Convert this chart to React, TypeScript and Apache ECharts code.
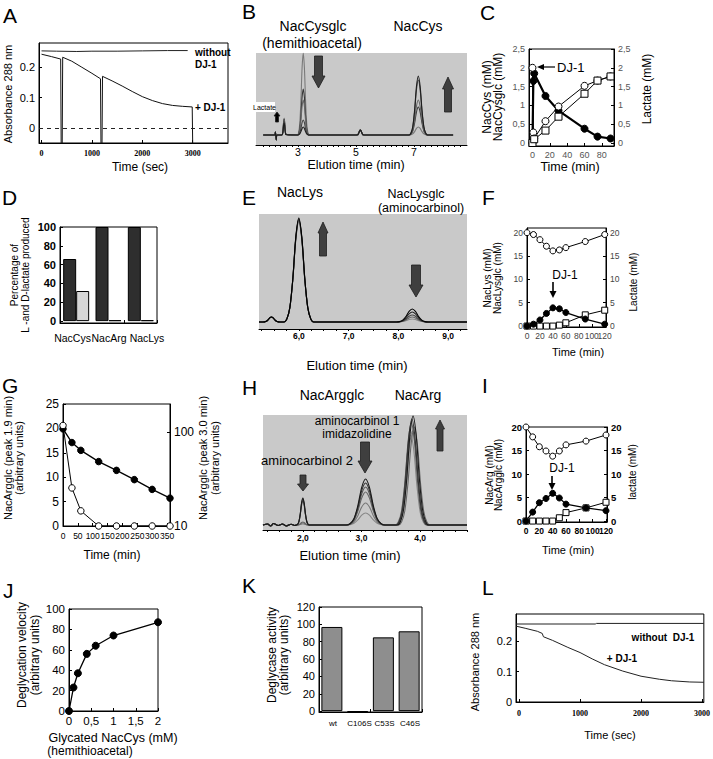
import React, { useEffect, useRef } from "react";
import * as echarts from "echarts";

const SANS = "'Liberation Sans', Arial, Helvetica, sans-serif";
const SERIF = "'Liberation Serif', 'Times New Roman', serif";
const GRAY_BG = "#c9c9c9";

// ---------------- A ----------------
const A_TIME_TICKS = [0, 1000, 2000, 3000];
const A_ABS_TICKS = [0, 0.1, 0.2];
const A_WITHOUT = [[0, 0.254], [300, 0.253], [700, 0.252], [1000, 0.253], [1500, 0.253], [2000, 0.254], [2500, 0.255], [2900, 0.255]];
const A_WITH_DJ1 = [
  [0, 0.243], [200, 0.235], [380, 0.227], [390, -0.06], [410, -0.06], [420, 0.233], [600, 0.22], [800, 0.2],
  [1000, 0.18], [1170, 0.162], [1180, -0.06], [1200, -0.06], [1210, 0.17], [1400, 0.155], [1600, 0.138],
  [1800, 0.12], [2000, 0.103], [2200, 0.09], [2400, 0.08], [2600, 0.074], [2800, 0.071], [2990, 0.069], [3000, -0.06],
];

// ---------------- B ----------------
const B_TIME_LABELS = [3, 5, 7];
const B_GLC_HEIGHTS = [82, 46, 35, 15, 8];
const B_CYS_HEIGHTS = [8, 28, 35, 55, 59];
const B_LACTATE_HEIGHTS = [17, 16, 15, 14, 12];
const B_PEAK5_HEIGHT = 5;
const B_SPIKE = [[2.19, 0], [2.22, 3], [2.25, -5], [2.28, 0]];

// ---------------- C ----------------
const C_TIME_TICKS = [0, 20, 40, 60, 80];
const C_CONC_TICKS = [0, 0.5, 1, 1.5, 2, 2.5];
const C_NACCYS = [[0, 2.0], [1, 0.28], [2, 0.12], [15, 0.58], [30, 0.97], [60, 1.52], [75, 1.66], [90, 1.77]];
const C_NACCYSGLC = [[0, 0], [1, 1.65], [2, 1.85], [15, 1.25], [30, 0.86], [60, 0.38], [75, 0.17], [90, 0.12]];
const C_LACTATE = [[0, 0], [2, 0.1], [15, 0.33], [30, 0.7], [60, 1.31], [75, 1.66], [90, 1.77]];

// ---------------- D ----------------
const D_CATEGORIES = ["NacCys", "NacArg", "NacLys"];
const D_L_LACTATE = [66, 100, 100];
const D_D_LACTATE = [32, 1, 1];
const D_TICKS = [0, 20, 40, 60, 80, 100];

// ---------------- E ----------------
const E_TIME_LABELS = [6, 7, 8, 9];
const E_LYS_HEIGHTS = [100, 101, 102, 103, 104];
const E_GLC_HEIGHTS = [3, 5, 7, 10, 13];
const E_PEAK_SMALL = 5;

// ---------------- F ----------------
const F_TIME = [0, 10, 20, 30, 40, 50, 60, 90, 120];
const F_NACLYS = [20, 19.6, 18.5, 17.1, 16.1, 16.3, 16.8, 18.1, 19.6];
const F_NACLYSGLC = [0, 0.4, 1.3, 2.7, 3.9, 3.7, 2.9, 1.5, 0.4];
const F_LACTATE = [0, 0, 0, 0, 0, 0.2, 0.7, 2.4, 3.4];
const F_TIME_TICKS = [0, 20, 40, 60, 80, 100, 120];
const F_CONC_TICKS = [0, 5, 10, 15, 20];

// ---------------- G ----------------
const G_TIME = [0, 30, 60, 120, 180, 240, 300, 360];
const G_PEAK30 = [19.9, 17.1, 15.5, 13.2, 11.4, 9.5, 7.5, 5.7];
const G_PEAK19 = [20.6, 7.8, 3.1, 0, 0, 0, 0, 0];
const G_TIME_TICKS = [0, 50, 100, 150, 200, 250, 300, 350];
const G_LEFT_TICKS = [0, 5, 10, 15, 20, 25];
const G_RIGHT_TICKS = [10, 100];

// ---------------- H ----------------
const H_TIME_LABELS = [2, 3, 4];
const H_AC2_HEIGHTS = [1, 2, 3, 24, 26, 27];
const H_AC1_HEIGHTS = [12, 22, 33, 38, 42, 46];
const H_ARG_HEIGHTS = [90, 94, 98, 102, 106, 109];
const H_ARG_CENTERS = [3.84, 3.87, 3.9, 3.85, 3.86, 3.88];
const H_NOISE = [[1.4, 1], [1.45, -1], [1.5, 1.5], [1.58, -0.5], [1.65, 1], [1.72, -1], [1.8, 0.8], [1.86, -0.5]];

// ---------------- I ----------------
const I_TIME = [0, 10, 20, 30, 40, 50, 60, 90, 120];
const I_NACARG = [20, 17.9, 15.8, 14.9, 13.8, 14.9, 16.2, 17, 18.3];
const I_NACARGGLC = [0, 1.9, 3.9, 4.8, 5.9, 4.9, 3.6, 2.8, 2.2];
const I_LACTATE = [0, 0, 0, 0, 0, 0.7, 1.8, 2.8, 4];
const I_TIME_TICKS = [0, 20, 40, 60, 80, 100, 120];
const I_CONC_TICKS = [0, 5, 10, 15, 20];

// ---------------- J ----------------
const J_CONC = [0, 0.1, 0.2, 0.4, 0.6, 1, 2];
const J_VELOCITY = [0, 23, 37, 56, 64, 74, 87];
const J_X_TICKS = [0, 0.5, 1, 1.5, 2];
const J_Y_TICKS = [0, 20, 40, 60, 80, 100];

// ---------------- K ----------------
const K_CATEGORIES = ["wt", "C106S", "C53S", "C46S"];
const K_ACTIVITY = [97, -1, 85, 92];
const K_TICKS = [0, 20, 40, 60, 80, 100, 120];

// ---------------- L ----------------
const L_TIME_TICKS = [0, 1000, 2000, 3000];
const L_ABS_TICKS = [0, 0.1, 0.2];
const L_WITHOUT = [[-50, 0.257], [1250, 0.257], [1270, 0.259], [3030, 0.259]];
const L_WITH_DJ1 = [[-50, 0.25], [100, 0.243], [300, 0.233], [380, 0.226], [400, 0.215], [550, 0.203], [800, 0.18], [1000, 0.163], [1200, 0.142], [1400, 0.123], [1700, 0.102], [2000, 0.085], [2300, 0.075], [2500, 0.07], [2800, 0.066], [3030, 0.065]];

// peak shape (relative position, relative height)
const PEAK_PROFILE = [[-1, 0], [-0.8, 0.03], [-0.6, 0.14], [-0.4, 0.42], [-0.2, 0.82], [0, 1], [0.2, 0.82], [0.4, 0.42], [0.6, 0.14], [0.8, 0.03], [1, 0]];

function chromTrace(xmin: number, xmax: number, peaks: number[][], extra: number[][] = []) {
  const pts: number[][] = [[xmin, 0], [xmax, 0], ...extra];
  peaks.forEach(([c, h, w]) => PEAK_PROFILE.forEach(([px, py]) => pts.push([c + px * w, h * py])));
  pts.sort((a, b) => a[0] - b[0]);
  return pts;
}

function range(a: number, b: number, step: number) {
  const out: number[] = [];
  for (let v = a; v <= b + 1e-9; v += step) out.push(Math.round(v * 1000) / 1000);
  return out;
}

const comma = (v: number) => String(v).replace(".", ",");
const comma1 = (v: number) => v.toFixed(1).replace(".", ",");

function buildOption() {
  const grid: any[] = [];
  const xAxis: any[] = [];
  const yAxis: any[] = [];
  const series: any[] = [];
  const graphic: any[] = [];

  const addGrid = (left: number, top: number, width: number, height: number, frame = true, bg = "transparent") => {
    grid.push({ left, top, width, height, show: true, borderColor: frame ? "#000" : "transparent", borderWidth: frame ? 1 : 0, backgroundColor: bg });
    return grid.length - 1;
  };
  const addX = (gi: number, cfg: any) => { xAxis.push({ gridIndex: gi, ...cfg }); return xAxis.length - 1; };
  const addY = (gi: number, cfg: any) => { yAxis.push({ gridIndex: gi, ...cfg }); return yAxis.length - 1; };

  const valAxis = (min: number, max: number, labels: number[], o: any = {}) => ({
    type: o.type ?? "value",
    min, max,
    ...(o.logBase ? { logBase: o.logBase } : {}),
    ...(o.position ? { position: o.position } : {}),
    axisLine: { show: o.showLine ?? true, onZero: false, lineStyle: { color: "#000", width: 1 } },
    axisTick: { show: o.showTicks ?? true, inside: o.tickInside ?? true, length: o.tickLen ?? 3, customValues: o.tickValues ?? labels, lineStyle: { color: "#000", width: 1 } },
    axisLabel: {
      show: true, customValues: labels, color: o.color ?? "#000", fontFamily: o.font ?? SANS,
      fontSize: o.size ?? 11, fontWeight: o.weight ?? "normal", margin: o.margin ?? 4,
      formatter: o.fmt ?? ((v: number) => String(v)), hideOverlap: false,
      showMinLabel: true, showMaxLabel: true,
    },
    splitLine: { show: false },
  });
  // puts every second label on a twin axis so that touching labels are all kept
  const addSplitX = (g: number, min: number, max: number, labels: number[], o: any) => {
    const a = labels.filter((_, i) => i % 2 === 0);
    const b = labels.filter((_, i) => i % 2 === 1);
    const xi = addX(g, valAxis(min, max, a, { ...o, tickValues: labels, position: "bottom" }));
    addX(g, valAxis(min, max, b, { ...o, showLine: false, showTicks: false, position: "bottom" }));
    return xi;
  };
  const hiddenAxis = (min: number, max: number) => ({ type: "value", min, max, show: false });
  const catAxis = (data: string[]) => ({
    type: "category", data,
    axisLine: { show: true, onZero: false, lineStyle: { color: "#000", width: 1 } },
    axisTick: { show: true, inside: true, length: 3, lineStyle: { color: "#000" } },
    axisLabel: { show: false },
    splitLine: { show: false },
  });

  const line = (xi: number, yi: number, data: any[], o: any = {}) => {
    series.push({
      type: "line", xAxisIndex: xi, yAxisIndex: yi, data,
      symbol: o.symbol ?? "none", symbolSize: o.size ?? 6,
      smooth: o.smooth ?? false,
      lineStyle: { color: o.color ?? "#000", width: o.width ?? 1, type: o.dash ? "dashed" : "solid" },
      itemStyle: { color: o.fill ?? "#000", borderColor: "#000", borderWidth: 1 },
      z: o.z ?? 2, silent: true, clip: true,
      ...(o.markLine ? { markLine: o.markLine } : {}),
    });
  };
  const pairs = (xs: number[], ys: number[]) => xs.map((x, i) => [x, ys[i]]);

  const txt = (text: string, x: number, y: number, o: any = {}) => {
    const align = o.align ?? "center";
    graphic.push({
      type: "text", x, y, rotation: o.rot ? Math.PI / 2 : 0, z: 100,
      style: {
        text, fill: o.color ?? "#000", fontSize: o.size ?? 12, fontFamily: o.font ?? SANS,
        fontWeight: o.weight ?? "normal", align, textAlign: align, verticalAlign: "middle", textVerticalAlign: "middle",
      },
    });
  };
  const blockArrow = (x: number, yTail: number, yTip: number, shaft: number, head: number, headLen: number, fill = "#3f3f3f") => {
    const d = yTip > yTail ? 1 : -1;
    const yb = yTip - d * headLen;
    graphic.push({
      type: "polygon", z: 90,
      shape: { points: [[x - shaft / 2, yTail], [x + shaft / 2, yTail], [x + shaft / 2, yb], [x + head / 2, yb], [x, yTip], [x - head / 2, yb], [x - shaft / 2, yb]] },
      style: { fill, stroke: "#1e1e1e", lineWidth: 0.8 },
    });
  };
  const thinArrowDown = (x: number, y1: number, y2: number) => {
    graphic.push({ type: "line", z: 90, shape: { x1: x, y1, x2: x, y2: y2 - 5 }, style: { stroke: "#000", lineWidth: 1.6 } });
    graphic.push({ type: "polygon", z: 90, shape: { points: [[x - 3.5, y2 - 7], [x + 3.5, y2 - 7], [x, y2]] }, style: { fill: "#000" } });
  };

  // letters
  const letters: [string, number, number][] = [["A", 3, 15], ["B", 242, 11], ["C", 480, 12], ["D", 2, 197], ["E", 242, 197], ["F", 482, 197], ["G", 2, 385], ["H", 242, 387], ["I", 482, 385], ["J", 3, 590], ["K", 242, 585], ["L", 482, 587]];
  letters.forEach(([t, x, y]) => txt(t, x, y, { size: 21, align: "left" }));

  // ===== A =====
  {
    const g = addGrid(39, 43, 189, 100);
    const xi = addX(g, valAxis(-50, 3700, A_TIME_TICKS, { font: SERIF, weight: "bold", size: 8, margin: 6 }));
    const yi = addY(g, valAxis(-0.05, 0.28, A_ABS_TICKS, { size: 11 }));
    line(xi, yi, A_WITHOUT, { width: 1, color: "#222" });
    line(xi, yi, A_WITH_DJ1, {
      width: 1, color: "#111",
      markLine: { silent: true, symbol: "none", label: { show: false }, lineStyle: { type: [4, 4], color: "#222", width: 1 }, data: [{ yAxis: 0 }] },
    });
    txt("Absorbance 288 nm", 8, 94, { rot: true, size: 11 });
    txt("Time (sec)", 140, 167, { size: 12 });
    txt("without", 195, 52, { size: 10, weight: "bold", align: "left" });
    txt("DJ-1", 195, 64, { size: 10, weight: "bold", align: "left" });
    txt("+ DJ-1", 195, 107, { size: 10, weight: "bold", align: "left" });
  }

  // ===== B =====
  {
    const g = addGrid(256, 53, 211, 92, false, GRAY_BG);
    const xi = addX(g, valAxis(1.55, 8.83, B_TIME_LABELS, { tickValues: range(1.8, 8.6, 0.2), tickInside: false, tickLen: 2, size: 10.5, margin: 1 }));
    const yi = addY(g, hiddenAxis(-10, 82));
    const colors = ["#7a7a7a", "#383838", "#666", "#444", "#1e1e1e"];
    B_GLC_HEIGHTS.forEach((h, i) => {
      const data = chromTrace(1.8, 8.35, [[2.52, B_LACTATE_HEIGHTS[i], 0.08], [3.18, h, 0.2], [5.15, B_PEAK5_HEIGHT, 0.13], [7.15, B_CYS_HEIGHTS[i], 0.32]], B_SPIKE);
      line(xi, yi, data, { smooth: 0.3, color: colors[i], width: 1.1 });
    });
    txt("NacCysglc", 313, 26, { size: 14 });
    txt("(hemithioacetal)", 312, 43, { size: 14 });
    txt("NacCys", 418, 26, { size: 14 });
    txt("Elution time (min)", 356, 165, { size: 12.5 });
    graphic.push({ type: "rect", z: 95, shape: { x: 254, y: 102, width: 21, height: 10 }, style: { fill: "#fff" } });
    txt("Lactate", 264.5, 107, { size: 7 });
    blockArrow(277, 122, 112, 3, 6, 4, "#000");
    blockArrow(318.5, 56, 88, 8, 13, 12);
    blockArrow(448, 112, 77, 7, 11, 12);
  }

  // ===== C =====
  {
    const g = addGrid(529, 49, 85, 97);
    const xi = addX(g, valAxis(-4, 94, C_TIME_TICKS, { size: 9, color: "#555" }));
    const yi = addY(g, valAxis(-0.08, 2.5, C_CONC_TICKS, { size: 9, color: "#555", fmt: comma }));
    addY(g, valAxis(-0.08, 2.5, C_CONC_TICKS, { size: 9, color: "#555", fmt: comma, position: "right" }));
    line(xi, yi, C_NACCYSGLC, { symbol: "circle", size: 7, fill: "#000", width: 2.2 });
    line(xi, yi, C_NACCYS, { symbol: "circle", size: 7, fill: "#fff", width: 1 });
    line(xi, yi, C_LACTATE, { symbol: "rect", size: 7, fill: "#fff", width: 1 });
    txt("NacCys (mM)", 487, 97, { rot: true, size: 12 });
    txt("NacCysglc (mM)", 498, 97, { rot: true, size: 12 });
    txt("Lactate (mM)", 647, 89, { rot: true, size: 12 });
    txt("DJ-1", 557, 67, { size: 13, align: "left" });
    graphic.push({ type: "line", z: 90, shape: { x1: 555, y1: 67, x2: 542, y2: 67 }, style: { stroke: "#000", lineWidth: 1.2 } });
    graphic.push({ type: "polygon", z: 90, shape: { points: [[537, 67], [544, 64], [544, 70]] }, style: { fill: "#000" } });
    txt("Time (min)", 570, 167, { size: 12.5 });
  }

  // ===== D =====
  {
    const g = addGrid(60, 227, 97, 96);
    const xi = addX(g, catAxis(D_CATEGORIES));
    const yi = addY(g, valAxis(-2, 100, D_TICKS, { size: 11, weight: "bold" }));
    series.push({ type: "bar", xAxisIndex: xi, yAxisIndex: yi, data: D_L_LACTATE, barWidth: 13, barGap: "0%", itemStyle: { color: "#2e2e2e", borderColor: "#000", borderWidth: 1 }, silent: true });
    series.push({ type: "bar", xAxisIndex: xi, yAxisIndex: yi, data: D_D_LACTATE, barWidth: 13, barGap: "0%", itemStyle: { color: "#d6d6d6", borderColor: "#000", borderWidth: 1 }, silent: true });
    const labelX = [72.5, 109, 147];
    D_CATEGORIES.forEach((c, i) => txt(c, labelX[i], 338, { size: 10.5 }));
    txt("Percentage of", 14, 275, { rot: true, size: 10 });
    txt("L -and D-lactate produced", 25, 275, { rot: true, size: 10 });
  }

  // ===== E =====
  {
    const g = addGrid(259, 214, 208, 115, false, GRAY_BG);
    const xi = addX(g, valAxis(5.2, 9.38, E_TIME_LABELS, { tickValues: range(5.25, 9.25, 0.25), tickInside: false, tickLen: 2, size: 8.5, weight: "bold", fmt: comma1, margin: 2 }));
    const yi = addY(g, hiddenAxis(-7, 108));
    const colors = ["#8a8a8a", "#666", "#444", "#222", "#000"];
    E_LYS_HEIGHTS.forEach((h, i) => {
      const data = chromTrace(5.2, 9.38, [[5.45, E_PEAK_SMALL, 0.17], [6.0, h, 0.3], [8.28, E_GLC_HEIGHTS[i], 0.32]]);
      line(xi, yi, data, { smooth: 0.3, color: colors[i], width: 1.1 });
    });
    txt("NacLys", 300, 192, { size: 14 });
    txt("NacLysglc", 416, 194, { size: 12.5 });
    txt("(aminocarbinol)", 421, 208, { size: 12.5 });
    txt("Elution time (min)", 357, 365, { size: 13 });
    blockArrow(323, 256, 222, 7, 10, 11);
    blockArrow(416, 265, 297, 9, 14, 12);
  }

  // ===== F =====
  {
    const g = addGrid(527, 228, 79, 99);
    const xi = addSplitX(g, 0, 122, F_TIME_TICKS, { size: 8.5, color: "#444" });
    const yi = addY(g, valAxis(-0.2, 21, F_CONC_TICKS, { size: 8.5, color: "#444" }));
    addY(g, valAxis(-0.2, 21, F_CONC_TICKS, { size: 8.5, color: "#444", position: "right" }));
    line(xi, yi, pairs(F_TIME, F_NACLYS), { symbol: "circle", size: 6, fill: "#fff" });
    line(xi, yi, pairs(F_TIME, F_LACTATE), { symbol: "rect", size: 6, fill: "#fff" });
    line(xi, yi, pairs(F_TIME, F_NACLYSGLC), { symbol: "circle", size: 6, fill: "#000", width: 1.3 });
    txt("NacLys (mM)", 487, 278, { rot: true, size: 10 });
    txt("NacLysglc (mM)", 497, 278, { rot: true, size: 10 });
    txt("Lactate (mM)", 633, 282, { rot: true, size: 10 });
    txt("DJ-1", 565, 275, { size: 12 });
    thinArrowDown(553, 282, 298);
    txt("Time (min)", 578, 352, { size: 11 });
  }

  // ===== G =====
  {
    const g = addGrid(63, 404, 107, 122);
    const xi = addSplitX(g, 0, 360, G_TIME_TICKS, { size: 8.5, margin: 5 });
    const yi = addY(g, valAxis(0, 25, G_LEFT_TICKS, { size: 12 }));
    addY(g, valAxis(10, 200, G_RIGHT_TICKS, { type: "log", logBase: 10, size: 12, position: "right" }));
    line(xi, yi, pairs(G_TIME, G_PEAK30), { symbol: "circle", size: 6.5, fill: "#000", width: 1.3 });
    line(xi, yi, pairs(G_TIME, G_PEAK19), { symbol: "circle", size: 6.5, fill: "#fff" });
    txt("NacArgglc (peak 1.9 min)", 8, 458, { rot: true, size: 11 });
    txt("(arbitrary units)", 19, 458, { rot: true, size: 11 });
    txt("NacArgglc (peak 3.0 min)", 203, 458, { rot: true, size: 11 });
    txt("(arbitrary units)", 215, 458, { rot: true, size: 11 });
    txt("Time (min)", 112, 555, { size: 12 });
  }

  // ===== H =====
  {
    const g = addGrid(263, 415, 204, 115, false, GRAY_BG);
    const xi = addX(g, valAxis(1.32, 4.8, H_TIME_LABELS, { tickValues: range(1.4, 4.8, 0.2), tickInside: false, tickLen: 2, size: 8.5, weight: "bold", fmt: comma1, margin: 3 }));
    const yi = addY(g, hiddenAxis(-5, 110));
    const colors = ["#888", "#777", "#666", "#555", "#333", "#1a1a1a"];
    H_AC1_HEIGHTS.forEach((h, i) => {
      const data = chromTrace(1.32, 4.8, [[2.0, H_AC2_HEIGHTS[i], 0.11], [3.07, h, 0.33], [H_ARG_CENTERS[i], H_ARG_HEIGHTS[i], 0.27]], H_NOISE);
      line(xi, yi, data, { smooth: 0.3, color: colors[i], width: 1.1 });
    });
    txt("NacArgglc", 332, 395, { size: 14 });
    txt("NacArg", 418, 395, { size: 14 });
    txt("aminocarbinol 1", 357, 421, { size: 12 });
    txt("imidazolidine", 357, 433.5, { size: 12 });
    txt("aminocarbinol 2", 307, 460, { size: 13 });
    txt("Elution time (min)", 350, 555, { size: 13 });
    blockArrow(303, 475, 491, 6, 11, 7);
    blockArrow(365, 442, 473, 9, 14, 12);
    blockArrow(440, 451, 420, 6, 9, 9);
  }

  // ===== I =====
  {
    const g = addGrid(526, 427, 81, 95);
    const xi = addSplitX(g, 0, 121.5, I_TIME_TICKS, { size: 8.5, weight: "bold" });
    const yi = addY(g, valAxis(-0.2, 20, I_CONC_TICKS, { size: 9.5, weight: "bold" }));
    addY(g, valAxis(-0.2, 20, I_CONC_TICKS, { size: 9.5, weight: "bold", position: "right" }));
    line(xi, yi, pairs(I_TIME, I_NACARG), { symbol: "circle", size: 6, fill: "#fff" });
    line(xi, yi, pairs(I_TIME, I_LACTATE), { symbol: "rect", size: 6, fill: "#fff" });
    line(xi, yi, pairs(I_TIME, I_NACARGGLC), { symbol: "circle", size: 6, fill: "#000", width: 1.3 });
    txt("NacArg (mM)", 489, 475, { rot: true, size: 10 });
    txt("NacArgglc (mM)", 498, 475, { rot: true, size: 10 });
    txt("lactate (mM)", 632, 472, { rot: true, size: 10 });
    txt("DJ-1", 562, 468, { size: 12 });
    thinArrowDown(552, 476, 490);
    txt("Time (min)", 568, 550, { size: 11 });
  }

  // ===== J =====
  {
    const g = addGrid(69, 609, 89, 102);
    const xi = addX(g, valAxis(0, 2, J_X_TICKS, { size: 11.5, fmt: comma }));
    const yi = addY(g, valAxis(0, 100, J_Y_TICKS, { size: 11.5 }));
    line(xi, yi, pairs(J_CONC, J_VELOCITY), { symbol: "circle", size: 7, fill: "#000", width: 1.3 });
    txt("Deglycation velocity", 22, 655, { rot: true, size: 12 });
    txt("(arbitrary units)", 35, 655, { rot: true, size: 12 });
    txt("Glycated NacCys (mM)", 113, 738, { size: 12.5 });
    txt("(hemithioacetal)", 90, 751, { size: 12 });
  }

  // ===== K =====
  {
    const g = addGrid(319, 607, 103, 105);
    const xi = addX(g, catAxis(K_CATEGORIES));
    const yi = addY(g, valAxis(-1, 120, K_TICKS, { size: 11 }));
    series.push({ type: "bar", xAxisIndex: xi, yAxisIndex: yi, data: K_ACTIVITY, barWidth: 21, itemStyle: { color: "#8e8e8e", borderColor: "#000", borderWidth: 1 }, silent: true });
    const labelX = [333, 359.5, 384.5, 410];
    K_CATEGORIES.forEach((c, i) => txt(c, labelX[i], 723, { size: 8 }));
    txt("Deglycase activity", 272, 655, { rot: true, size: 12 });
    txt("(arbitrary units)", 284, 655, { rot: true, size: 12 });
  }

  // ===== L =====
  {
    const g = addGrid(516, 614, 190, 88);
    const xi = addX(g, valAxis(-50, 3030, L_TIME_TICKS, { font: SERIF, weight: "bold", size: 8, margin: 7 }));
    const yi = addY(g, valAxis(0, 0.29, L_ABS_TICKS, { size: 11 }));
    line(xi, yi, L_WITHOUT, { color: "#222" });
    line(xi, yi, L_WITH_DJ1, { color: "#222" });
    txt("Absorbance 288 nm", 475, 662, { rot: true, size: 11 });
    txt("without  DJ-1", 663, 637, { size: 10, weight: "bold" });
    txt("+ DJ-1", 622, 658, { size: 10, weight: "bold" });
    txt("Time (sec)", 610, 735, { size: 11 });
  }

  return { animation: false, backgroundColor: "#fff", grid, xAxis, yAxis, series, graphic };
}

export default function App() {
  const ref = useRef<HTMLDivElement>(null);
  useEffect(() => {
    if (!ref.current) return;
    const chart = echarts.init(ref.current, null, { renderer: "svg" });
    chart.setOption(buildOption() as any);
    return () => chart.dispose();
  }, []);
  return <div ref={ref} style={{ position: "fixed", left: 0, top: 0, width: 713, height: 759, background: "#fff" }} />;
}
